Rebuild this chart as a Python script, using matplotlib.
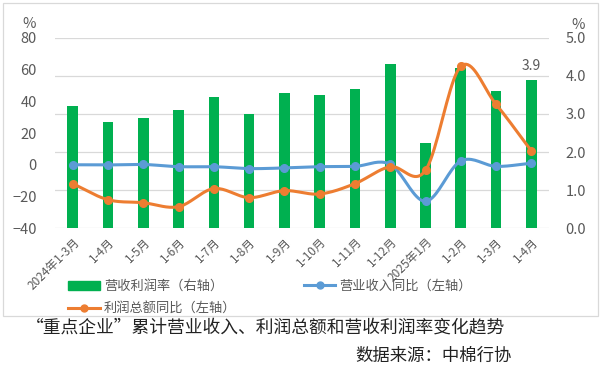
import numpy as np
import matplotlib
matplotlib.use("Agg")
import matplotlib.pyplot as plt
from matplotlib.patches import Rectangle
from matplotlib.lines import Line2D

plt.rcParams['font.family'] = ['Noto Sans CJK SC', 'DejaVu Sans']

categories = ["2024年1-3月", "1-4月", "1-5月", "1-6月", "1-7月", "1-8月", "1-9月",
              "1-10月", "1-11月", "1-12月", "2025年1月", "1-2月", "1-3月", "1-4月"]
margin = [3.2, 2.8, 2.9, 3.1, 3.45, 3.0, 3.55, 3.5, 3.65, 4.3, 2.25, 4.2, 3.6, 3.9]
revenue_yoy = [0.0, -0.1, 0.2, -1.2, -1.2, -2.4, -2.0, -1.2, -1.0, 0.3, -23.0, 2.4, -1.0, 1.0]
profit_yoy = [-11.9, -22.0, -23.9, -26.4, -15.0, -20.7, -16.3, -18.4, -11.9, -1.2, -3.5, 62.0, 38.0, 8.7]
legend_labels = ["营收利润率（右轴）", "利润总额同比（左轴）", "营业收入同比（左轴）"]
caption = "“重点企业”累计营业收入、利润总额和营收利润率变化趋势"
source = "数据来源：中棉行协"

GREEN = "#00B050"
BLUE = "#5B9BD5"
ORANGE = "#ED7D31"
GRAY = "#595959"
GRID = "#D9D9D9"


def smooth(y, n=20):
    """Catmull-Rom spline through points (index, y)."""
    y = np.asarray(y, dtype=float)
    x = np.arange(len(y), dtype=float)
    P = np.column_stack([x, y])
    P = np.vstack([2 * P[0] - P[1], P, 2 * P[-1] - P[-2]])
    out = []
    for i in range(1, len(P) - 2):
        p0, p1, p2, p3 = P[i - 1], P[i], P[i + 1], P[i + 2]
        t = np.linspace(0, 1, n, endpoint=(i == len(P) - 3))[:, None]
        c1 = p1 + (p2 - p0) / 6.0
        c2 = p2 - (p3 - p1) / 6.0
        pts = ((1 - t) ** 3) * p1 + 3 * ((1 - t) ** 2) * t * c1 + 3 * (1 - t) * t ** 2 * c2 + t ** 3 * p2
        out.append(pts)
    out = np.vstack(out)
    return out[:, 0], out[:, 1]


fig = plt.figure(figsize=(6.0, 3.7), dpi=100)
ax2 = fig.add_axes([0.0917, 0.383, 0.8233, 0.515])
ax = ax2.twinx()
# left axis on top (lines), right axis (bars) below
ax.set_zorder(ax2.get_zorder() + 1)
ax.patch.set_visible(False)
ax.yaxis.tick_left()
ax.yaxis.set_label_position("left")
ax2.yaxis.tick_right()

x = np.arange(len(categories))

# bars on right axis
ax2.set_ylim(0, 5)
ax2.set_yticks(np.arange(0, 5.01, 1.0))
ax2.set_yticklabels([f"{v:.1f}" for v in np.arange(0, 5.01, 1.0)])
ax2.grid(axis='y', color=GRID, lw=0.9)
ax2.set_axisbelow(True)
bars = ax2.bar(x, margin, width=0.3, color=GREEN, zorder=2)
labels = [""] * (len(margin) - 1) + [f"{margin[-1]:.1f}"]
ax2.bar_label(bars, labels=labels, padding=5, color=GRAY, fontsize=10)

# lines on left axis
ax.set_ylim(-40, 80)
ax.set_yticks(np.arange(-40, 81, 20))
for vals, col in [(revenue_yoy, BLUE), (profit_yoy, ORANGE)]:
    sx, sy = smooth(vals)
    ax.plot(sx, sy, color=col, lw=2.2, solid_capstyle='round', zorder=3)
    ax.plot(x, vals, 'o', color=col, ms=5.5, zorder=4)

ax2.set_xlim(-0.5, len(categories) - 0.5)
ax2.set_xticks(x)
ax2.set_xticklabels(categories, rotation=45, ha='right', rotation_mode='anchor',
                    fontsize=8.5, color=GRAY)

for a in (ax, ax2):
    for s in a.spines.values():
        s.set_visible(False)
    a.tick_params(length=0)
ax.tick_params(axis='y', labelsize=10.5, labelcolor=GRAY, pad=13)
ax2.tick_params(axis='y', labelsize=10.5, labelcolor=GRAY, pad=12)
ax2.tick_params(axis='x', pad=5)

fig.text(0.048, 0.935, "%", fontsize=10.5, color=GRAY, ha='center', va='center')
fig.text(0.963, 0.932, "%", fontsize=10.5, color=GRAY, ha='center', va='center')

# legend
handles = [Rectangle((0, 0), 1, 1, color=GREEN),
           Line2D([], [], color=ORANGE, lw=2.2, marker='o', ms=5),
           Line2D([], [], color=BLUE, lw=2.2, marker='o', ms=5)]
fig.legend(handles, legend_labels, ncol=2, loc='upper left',
           bbox_to_anchor=(0.105, 0.258), frameon=False, fontsize=9.5,
           handlelength=2.4, columnspacing=5.1, handletextpad=0.3,
           labelspacing=0.72, borderaxespad=0, labelcolor=GRAY)

# frame
fig.patches.append(Rectangle((0.005, 0.146), 0.992, 0.846, transform=fig.transFigure,
                             fill=False, ec=GRID, lw=0.9))

fig.text(0.443, 0.114, caption, fontsize=12.8, ha='center', va='center', color='#222222')
fig.text(0.853, 0.038, source, fontsize=12.5, ha='right', va='center', color='#222222')

fig.savefig("out.png", dpi=100)
